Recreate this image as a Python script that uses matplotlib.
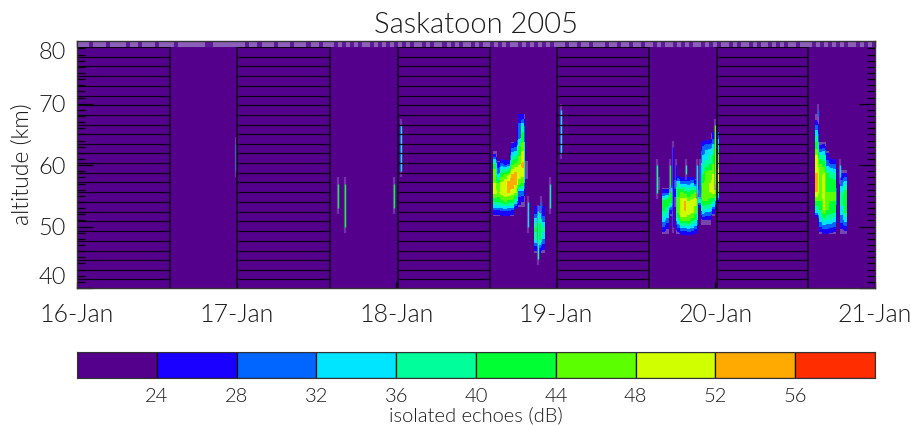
import numpy as np
import matplotlib
matplotlib.use('Agg')
import matplotlib.pyplot as plt
from matplotlib.colors import BoundaryNorm, ListedColormap

plt.rcParams['font.family'] = ['Lato', 'DejaVu Sans']
plt.rcParams['font.weight'] = 300
plt.rcParams['axes.titleweight'] = 300
plt.rcParams['axes.labelweight'] = 300

# colour scale
db_levels = [20, 24, 28, 32, 36, 40, 44, 48, 52, 56, 60]
db_colors = ['#55008c', '#1a00ff', '#0066ff', '#00e5ff', '#00ff9a',
             '#00ff33', '#5cff00', '#d0ff00', '#ffaa00', '#ff2d00']
db_ticks = [24, 28, 32, 36, 40, 44, 48, 52, 56]

day_ticks = [0, 1, 2, 3, 4, 5]
day_labels = ['16-Jan', '17-Jan', '18-Jan', '19-Jan', '20-Jan', '21-Jan']
alt_ticks = [40, 50, 60, 70, 80]

# night bands without data (days since 16 Jan)
band_starts = [0.0, 1.0, 2.011, 3.008, 4.01]
band_ends = [0.583, 1.585, 2.588, 3.584, 4.58]
gate_alts = [79.2, 77.6, 76.1, 74.5, 72.9, 71.3, 69.8, 68.2, 66.6, 65.0, 63.5, 61.9, 60.3,
             58.7, 57.2, 55.6, 54.0, 52.4, 50.9, 49.3, 47.7, 46.1, 44.6, 43.0, 41.4]

# top range gate, on/off per time cell
top_strip = ['11101110111101101110111', '10111111100111111', '11011011101110111011011',
             '10101010110101010', '10101101011010101101011', '01010110101010101',
             '11011011011101101101101', '10101101010110101', '01101011010110101011011',
             '10101010101101010']

# isolated streaks
streak_days = [0.994, 1.634, 1.678, 1.987, 2.030, 2.826, 2.888, 2.905, 2.964, 3.033,
               3.634, 3.647, 3.716, 3.735, 3.750, 3.816, 3.885, 3.905, 4.000, 4.643, 4.781]
streak_low = [58.0, 52.0, 49.0, 52.0, 58.0, 49.0, 43.8, 52.0, 52.0, 61.0,
              54.5, 56.0, 55.5, 49.0, 56.5, 57.5, 54.5, 54.5, 56.0, 67.0, 57.0]
streak_high = [64.5, 58.0, 58.0, 58.0, 67.5, 55.0, 53.5, 55.0, 58.0, 70.0,
               61.0, 58.0, 61.0, 64.0, 61.0, 61.0, 61.0, 61.0, 67.5, 70.0, 61.0]
streak_db = [34, 41, 42, 41, 34, 32, 36, 30, 36, 34,
             36, 34, 40, 26, 26, 38, 34, 30, 44, 30, 34]

# echo patches
patch1_days = [2.619, 2.641, 2.663, 2.685, 2.707, 2.729, 2.751, 2.773, 2.795, 2.816]
patch1_alts = [67.5, 66, 64.5, 63, 61.5, 60, 58.5, 57, 55.5, 54, 52.5, 51]
patch1_db = [[20, 20, 20, 20, 20, 20, 20, 26, 27, 20],
             [20, 20, 20, 20, 20, 20, 20, 30, 38, 20],
             [20, 20, 20, 20, 20, 20, 20, 30, 42, 20],
             [20, 20, 20, 20, 20, 26, 27, 40, 46, 20],
             [25, 20, 20, 20, 20, 36, 37, 44, 50, 20],
             [42, 26, 30, 28, 29, 44, 46, 48, 53, 22],
             [46, 32, 42, 44, 47, 52, 54, 50, 50, 22],
             [48, 44, 49, 51, 54, 56, 53, 46, 44, 20],
             [50, 48, 50, 52, 52, 50, 48, 30, 30, 20],
             [40, 40, 42, 44, 42, 42, 36, 26, 24, 20],
             [27, 27, 28, 28, 28, 27, 20, 20, 20, 20],
             [20, 20, 20, 20, 20, 20, 20, 20, 20, 20]]

patch2_days = [2.877, 2.899, 2.921]
patch2_alts = [52.5, 51, 49.5, 48, 46.5, 45]
patch2_db = [[25, 30, 25],
             [34, 38, 30],
             [41, 44, 38],
             [38, 42, 32],
             [26, 28, 25],
             [20, 20, 20]]

patch3_days = [3.678, 3.700, 3.722, 3.744, 3.766, 3.788, 3.810, 3.832, 3.854, 3.876,
               3.898, 3.920, 3.942, 3.964, 3.986, 4.008]
patch3_alts = [64.5, 63, 61.5, 60, 58.5, 57, 55.5, 54, 52.5, 51, 49.5, 48]
patch3_db = [[20, 20, 20, 20, 20, 20, 20, 20, 20, 20, 20, 20, 20, 20, 26, 30],
             [20, 20, 20, 20, 20, 20, 20, 20, 20, 20, 20, 28, 30, 30, 34, 38],
             [20, 20, 20, 20, 20, 20, 20, 20, 20, 20, 20, 32, 34, 36, 40, 44],
             [20, 20, 20, 20, 20, 20, 20, 20, 20, 20, 20, 36, 38, 40, 44, 46],
             [20, 20, 20, 20, 20, 20, 20, 20, 20, 20, 20, 40, 46, 46, 48, 50],
             [20, 20, 20, 32, 36, 30, 30, 30, 32, 26, 20, 44, 46, 48, 52, 48],
             [26, 26, 40, 26, 42, 44, 42, 40, 42, 44, 30, 46, 46, 48, 50, 44],
             [42, 44, 44, 22, 46, 50, 52, 48, 50, 50, 34, 44, 44, 42, 40, 26],
             [40, 38, 26, 20, 46, 52, 52, 50, 50, 46, 20, 36, 34, 34, 26, 20],
             [34, 30, 20, 20, 38, 46, 46, 46, 42, 40, 20, 24, 24, 24, 20, 20],
             [26, 24, 20, 20, 26, 30, 30, 32, 30, 28, 20, 20, 20, 20, 20, 20],
             [20, 20, 20, 20, 20, 20, 20, 20, 20, 20, 20, 20, 20, 20, 20, 20]]

patch4_days = [4.637, 4.659, 4.681, 4.703, 4.725, 4.747, 4.769, 4.791, 4.813]
patch4_alts = [67.5, 66, 64.5, 63, 61.5, 60, 58.5, 57, 55.5, 54, 52.5, 51, 49.5, 48]
patch4_db = [[22, 20, 20, 20, 20, 20, 20, 20, 20],
             [30, 20, 20, 20, 20, 20, 20, 20, 20],
             [36, 20, 20, 20, 20, 20, 20, 20, 20],
             [42, 24, 25, 20, 20, 20, 20, 20, 20],
             [48, 36, 36, 25, 20, 20, 20, 20, 20],
             [50, 44, 42, 30, 28, 28, 20, 20, 20],
             [52, 46, 48, 40, 38, 36, 20, 24, 24],
             [54, 46, 50, 42, 42, 42, 20, 30, 34],
             [52, 46, 50, 44, 44, 44, 20, 36, 42],
             [44, 44, 48, 46, 44, 44, 20, 38, 44],
             [36, 40, 48, 44, 42, 42, 20, 34, 42],
             [20, 34, 38, 36, 36, 34, 20, 30, 34],
             [20, 26, 28, 28, 27, 26, 20, 24, 25],
             [20, 20, 20, 20, 20, 20, 20, 20, 20]]

cmap = ListedColormap(db_colors)
norm = BoundaryNorm(db_levels, cmap.N)
# lowest class see-through, so the lavender backing shows at the patch edges
patch_cmap = ListedColormap([(0, 0, 0, 0)] + db_colors[1:])
TEXT = '#1a1a1a'


def draw_patch(ax, days, alts, db):
    days = np.array(days)
    alts = np.array(alts)
    db = np.array(db, dtype=float)
    half_t = (days[1] - days[0]) / 2
    half_a = (alts[0] - alts[1]) / 2
    # lavender column behind each time with signal
    for j, t in enumerate(days):
        hit = alts[db[:, j] > 20]
        if len(hit):
            ax.bar(t, hit.max() - hit.min() + 2 * half_a, bottom=hit.min() - half_a, width=2 * half_t,
                   color='#8060b8', alpha=0.75, linewidth=0, zorder=2)
    # repeat columns so the time direction stays blocky
    sharp = np.repeat(db, 4, axis=1)
    ax.imshow(sharp, cmap=patch_cmap, norm=norm, aspect='auto',
              interpolation='bilinear', interpolation_stage='data',
              extent=[days[0] - half_t, days[-1] + half_t, alts[-1] - half_a, alts[0] + half_a],
              zorder=3)


fig = plt.figure(figsize=(9.12, 4.25), dpi=100)
ax = fig.add_axes([77 / 912, 1 - 288 / 425, 798 / 912, 247 / 425])
ax.set_facecolor(db_colors[0])

for patch in [(patch1_days, patch1_alts, patch1_db), (patch2_days, patch2_alts, patch2_db),
              (patch3_days, patch3_alts, patch3_db), (patch4_days, patch4_alts, patch4_db)]:
    draw_patch(ax, *patch)

streak_colors = [cmap(norm(v)) for v in streak_db]
ax.vlines(streak_days, streak_low, streak_high, color='#8a5cc0', lw=1.6, alpha=0.55, zorder=4)
ax.vlines(streak_days, np.array(streak_low) + 1, np.array(streak_high) - 1, color=streak_colors,
          lw=1.0, zorder=4)

for start, end in zip(band_starts, band_ends):
    ax.hlines(gate_alts, start, end, color='black', lw=0.9, alpha=0.85, zorder=5)
    ax.vlines([start, end], 40, 80.2, color='#14002a', lw=1.2, zorder=5)

# top strip: one row of cells, per segment
seg_edges = [0.0, 0.583, 1.0, 1.585, 2.011, 2.588, 3.008, 3.584, 4.01, 4.58, 5.0]
for i, cells in enumerate(top_strip):
    vals = np.array([[int(c) for c in cells]], dtype=float)
    ax.imshow(vals, cmap=ListedColormap(['#5d1a98', '#8c60b8']), vmin=0, vmax=1, aspect='auto',
              interpolation='nearest', extent=[seg_edges[i], seg_edges[i + 1], 79.25, 80.2], zorder=6)

ax.set_xlim(0, 5)
ax.set_ylim(40, 80.2)
ax.set_xticks(day_ticks)
ax.set_xticklabels(day_labels, fontsize=18, color=TEXT)
ax.set_yticks(alt_ticks)
ax.set_yticks(np.arange(40, 81), minor=True)
ax.tick_params(axis='y', which='major', direction='in', length=11.5, width=0.9, left=True, right=True,
               labelsize=17, labelcolor=TEXT, pad=8)
ax.tick_params(axis='y', which='minor', direction='in', length=6, width=0.9, left=True, right=True)
ax.tick_params(axis='x', which='major', direction='in', length=4, width=0.9, top=True, pad=11)
# end labels sit inside the axis range
ylabels = ax.get_yticklabels()
ylabels[0].set_va('bottom')
ylabels[-1].set_va('top')
ax.set_ylabel('altitude (km)', fontsize=16.5, color=TEXT, labelpad=4)
ax.set_title('Saskatoon 2005', fontsize=21, color=TEXT, pad=6)
for side in ax.spines.values():
    side.set_color('#333333')
    side.set_linewidth(1.0)
    side.set_zorder(7)

# colour bar
cax = fig.add_axes([77 / 912, 1 - 378 / 425, 798 / 912, 26 / 425])
cax.barh(0, np.diff(db_levels), left=db_levels[:-1], height=1, color=db_colors,
         edgecolor='#111111', linewidth=0.9)
cax.set_xlim(db_levels[0], db_levels[-1])
cax.set_ylim(-0.5, 0.5)
cax.set_yticks([])
cax.set_xticks(db_ticks)
cax.tick_params(axis='x', length=0, labelsize=14.5, labelcolor=TEXT, pad=7)
for side in cax.spines.values():
    side.set_color('#333333')
fig.text(476 / 912, 1 - 415.5 / 425, 'isolated echoes (dB)', fontsize=14.5, color=TEXT, ha='center', va='center')

fig.savefig('out.png', dpi=100)
